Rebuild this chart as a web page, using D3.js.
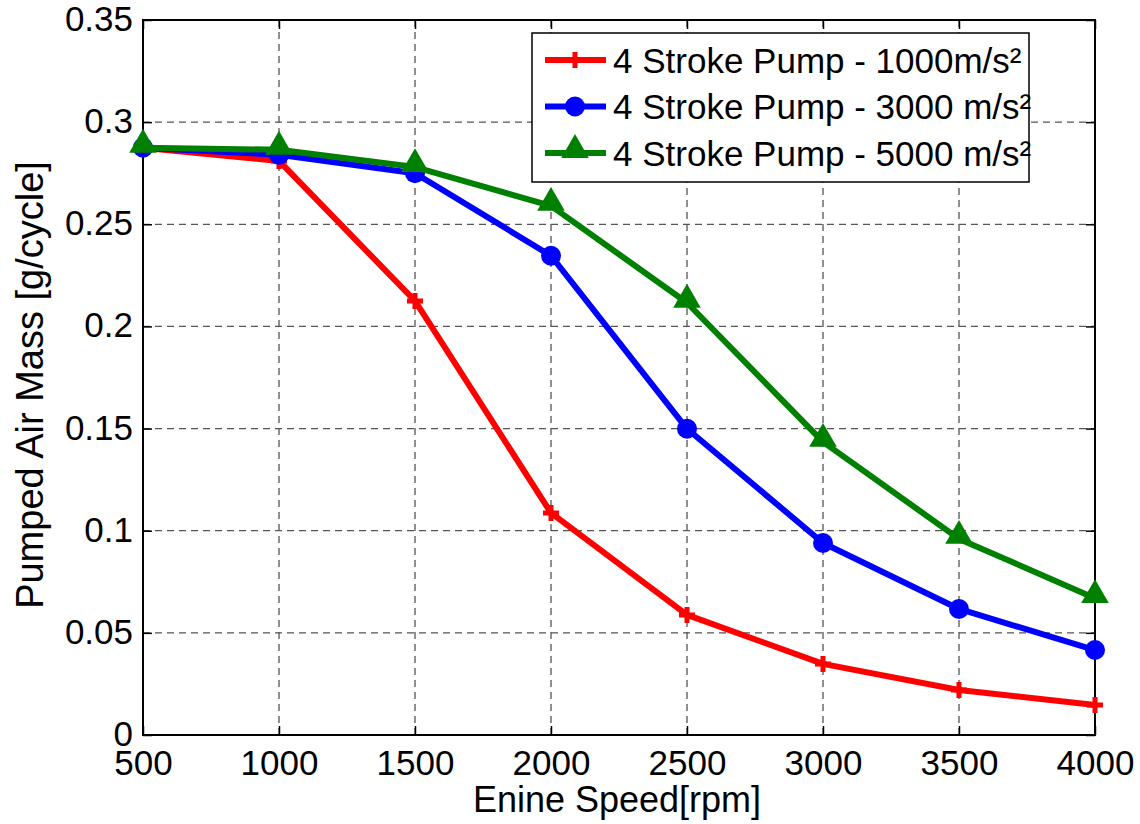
<!DOCTYPE html>
<html><head><meta charset="utf-8">
<script src="https://cdn.jsdelivr.net/npm/d3@7/dist/d3.min.js"></script>
<style>body{margin:0;background:#fff}svg{display:block}text{font-family:"Liberation Sans",Arial,sans-serif;fill:#000}</style>
</head><body><svg id="c" width="1140" height="824"></svg>
<script>
const speeds = [500,1000,1500,2000,2500,3000,3500,4000];
const red1000 = [0.2875,0.281,0.2125,0.1087,0.0588,0.0348,0.022,0.0147];
const blue3000 = [0.2875,0.284,0.275,0.2346,0.1499,0.094,0.0617,0.0416];
const green5000 = [0.2875,0.2865,0.278,0.259,0.2116,0.1435,0.096,0.067];
const xTicks = [500,1000,1500,2000,2500,3000,3500,4000];
const yTicks = [0,0.05,0.1,0.15,0.2,0.25,0.3,0.35];
const seriesNames = ["4 Stroke Pump - 1000m/s\u00B2","4 Stroke Pump - 3000 m/s\u00B2","4 Stroke Pump - 5000 m/s\u00B2"];

const L=143,R=1095,T=20,B=735;
const svg=d3.select("#c");
const x=d3.scaleLinear().domain([500,4000]).range([L,R]);
const y=d3.scaleLinear().domain([0,0.35]).range([B,T]);

// grid
const g=svg.append("g");
g.selectAll(".gx").data(xTicks.slice(1,-1)).join("line")
 .attr("x1",d=>x(d)).attr("x2",d=>x(d)).attr("y1",T).attr("y2",B)
 .attr("stroke","#555").attr("stroke-width",1.3).attr("stroke-dasharray","7,5");
g.selectAll(".gy").data(yTicks.slice(1,-1)).join("line")
 .attr("y1",d=>y(d)).attr("y2",d=>y(d)).attr("x1",L).attr("x2",R)
 .attr("stroke","#555").attr("stroke-width",1.3).attr("stroke-dasharray","7,5");

// axes
const fs=35;
const xa=svg.append("g").attr("transform",`translate(0,${B})`)
 .call(d3.axisBottom(x).tickValues(xTicks).tickSize(-9).tickPadding(15).tickFormat(d3.format("d")));
const ya=svg.append("g").attr("transform",`translate(${L},0)`)
 .call(d3.axisLeft(y).tickValues(yTicks).tickSize(-9).tickPadding(10).tickFormat(d=>d===0?"0":String(+d.toFixed(2))));
const xt=svg.append("g").attr("transform",`translate(0,${T})`)
 .call(d3.axisTop(x).tickValues(xTicks).tickSize(-9).tickFormat(""));
const yr=svg.append("g").attr("transform",`translate(${R},0)`)
 .call(d3.axisRight(y).tickValues(yTicks).tickSize(-9).tickFormat(""));
[xa,ya,xt,yr].forEach(a=>{a.select(".domain").remove();a.selectAll("line").attr("stroke","#000").attr("stroke-width",1.5);
 a.selectAll("text").style("font-size",fs+"px").attr("fill","#000");});
xa.selectAll("text").attr("dy","0.71em");
ya.selectAll("text").attr("dy","0.3em");
svg.append("rect").attr("x",L).attr("y",T).attr("width",R-L).attr("height",B-T)
 .attr("fill","none").attr("stroke","#000").attr("stroke-width",2);

// axis titles
svg.append("text").attr("x",617).attr("y",812).attr("text-anchor","middle").style("font-size","36px").text("Enine Speed[rpm]");
svg.append("text").attr("transform",`translate(43,385) rotate(-90)`).attr("text-anchor","middle").style("font-size","38px").text("Pumped Air Mass [g/cycle]");

// series
const series=[{v:red1000,c:"#ff0000",m:"plus"},{v:blue3000,c:"#0000ff",m:"circle"},{v:green5000,c:"#008000",m:"tri"}];
const line=d3.line().x(d=>x(d[0])).y(d=>y(d[1]));
function marker(sel,m,c){
  if(m==="circle") sel.append("circle").attr("r",10).attr("fill",c);
  else if(m==="tri") sel.append("path").attr("d",d3.symbol(d3.symbolTriangle,330)()).attr("transform","translate(0,-3)").attr("fill",c);
  else sel.append("path").attr("d","M-8,0H8M0,-8V8").attr("stroke",c).attr("stroke-width",5);
}
series.forEach(s=>{
  const pts=speeds.map((sp,i)=>[sp,s.v[i]]);
  svg.append("path").attr("d",line(pts)).attr("fill","none").attr("stroke",s.c).attr("stroke-width",6).attr("stroke-linejoin","round");
  pts.forEach(p=>{const mg=svg.append("g").attr("transform",`translate(${x(p[0])},${y(p[1])})`);marker(mg,s.m,s.c);});
});

// legend
const lg=svg.append("g");
lg.append("rect").attr("x",532).attr("y",33).attr("width",497).attr("height",149).attr("fill","#fff").attr("stroke","#000").attr("stroke-width",1.5);
series.forEach((s,i)=>{
  const yy=60+i*46.5;
  lg.append("line").attr("x1",545).attr("x2",606).attr("y1",yy).attr("y2",yy).attr("stroke",s.c).attr("stroke-width",6);
  const mg=lg.append("g").attr("transform",`translate(575,${yy})`);marker(mg,s.m,s.c);
  lg.append("text").attr("x",613).attr("y",yy).attr("dy","0.36em").style("font-size","35px").text(seriesNames[i]);
});
</script></body></html>
